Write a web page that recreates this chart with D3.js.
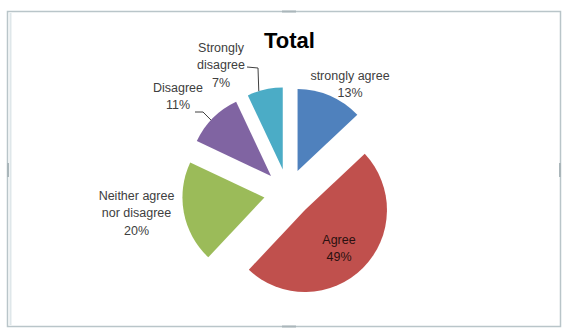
<!DOCTYPE html>
<html>
<head>
<meta charset="utf-8">
<script src="https://cdn.jsdelivr.net/npm/d3@7/dist/d3.min.js"></script>
<style>
  html, body { margin: 0; padding: 0; background: #ffffff; }
  svg { display: block; }
  text { font-family: "Liberation Sans", Arial, sans-serif; }
</style>
</head>
<body>
<svg id="chart" width="566" height="330"></svg>
<script>
// Survey answers for "Total"
const title = "Total";
const categories = ["strongly agree", "Agree", "Neither agree nor disagree", "Disagree", "Strongly disagree"];
const categoryLines = [["strongly agree"], ["Agree"], ["Neither agree", "nor disagree"], ["Disagree"], ["Strongly", "disagree"]];
const values = [13, 49, 20, 11, 7];
const percentLabels = ["13%", "49%", "20%", "11%", "7%"];
const colors = ["#4F81BD", "#C0504D", "#9BBB59", "#8064A2", "#4BACC6"];

const W = 566, H = 330;
const cx = 288, cy = 193;      // pie centre
const radius = 82;
const explode = 24;            // every slice pulled out from the centre

const svg = d3.select("#chart");

// chart-area frame
svg.append("rect")
  .attr("x", 7.5).attr("y", 11.5).attr("width", 553).attr("height", 315)
  .attr("fill", "#ffffff").attr("stroke", "#b9c5c9").attr("stroke-width", 1.5);
svg.append("line")
  .attr("x1", 10.5).attr("x2", 10.5).attr("y1", 13).attr("y2", 325)
  .attr("stroke", "#dfe7ea").attr("stroke-width", 2);
// frame handles
[[289, 11.5, 14, 2], [289, 326.5, 14, 2], [8, 170, 2, 14], [560, 170, 2, 14]].forEach(h => {
  svg.append("rect")
    .attr("x", h[0] - h[2] / 2).attr("y", h[1] - h[3] / 2)
    .attr("width", h[2]).attr("height", h[3])
    .attr("fill", "#aab6ba");
});

// title
svg.append("text")
  .attr("x", 289.5).attr("y", 48)
  .attr("text-anchor", "middle")
  .attr("font-size", 22).attr("font-weight", "bold")
  .attr("fill", "#000")
  .text(title);

const pie = d3.pie().sort(null).value(d => d).startAngle(0).endAngle(2 * Math.PI);
const arcs = pie(values);
const arcGen = d3.arc().innerRadius(0).outerRadius(radius);

const g = svg.append("g").attr("transform", `translate(${cx},${cy})`);

function offsetOf(a) {
  const mid = (a.startAngle + a.endAngle) / 2;
  return [Math.sin(mid) * explode, -Math.cos(mid) * explode];
}

g.selectAll("path.slice")
  .data(arcs)
  .join("path")
  .attr("class", "slice")
  .attr("d", arcGen)
  .attr("transform", d => { const o = offsetOf(d); return `translate(${o[0]},${o[1]})`; })
  .attr("fill", (d, i) => colors[i]);

// label placement relative to the pie centre
const labelOffsets = [[62, -109], [51, 55], [-151.5, 20], [-110, -97], [-67, -128]];
const lineGap = 17.5;

arcs.forEach((a, i) => {
  const lines = categoryLines[i].concat([percentLabels[i]]);
  const [ox, oy] = labelOffsets[i];
  const top = oy - (lines.length - 1) * lineGap / 2;
  const t = g.append("text")
    .attr("text-anchor", "middle")
    .attr("font-size", 12.5)
    .attr("fill", i === 1 ? "#2a1010" : "#404040");
  lines.forEach((ln, k) => {
    t.append("tspan")
      .attr("x", ox).attr("y", top + k * lineGap)
      .attr("dy", "0.35em")
      .text(ln);
  });
});

// leader lines from labels to their slices
function arcPoint(i, deg) {
  const o = offsetOf(arcs[i]);
  const r = deg * Math.PI / 180;
  return [o[0] + Math.sin(r) * radius, o[1] - Math.cos(r) * radius];
}
const leaders = [
  { slice: 4, from: [[247 - cx, 67 - cy], [258 - cx, 68 - cy]], angle: 343 },
  { slice: 3, from: [[195 - cx, 112 - cy], [203 - cx, 112 - cy]], angle: 313 }
];
leaders.forEach(l => {
  const pts = l.from.concat([arcPoint(l.slice, l.angle)]);
  g.append("path")
    .attr("d", d3.line()(pts))
    .attr("fill", "none")
    .attr("stroke", "#404040")
    .attr("stroke-width", 1);
});
</script>
</body>
</html>
